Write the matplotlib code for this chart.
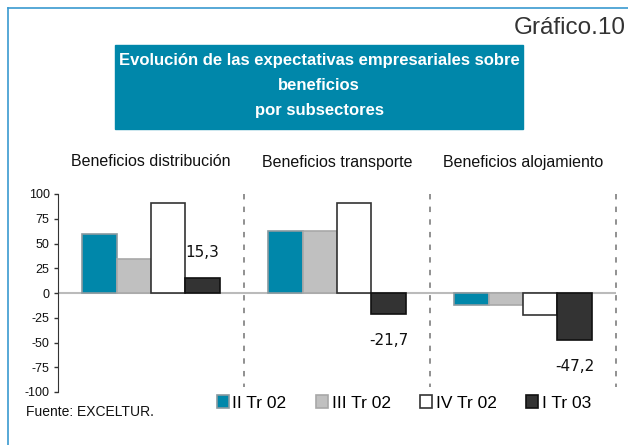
import matplotlib.pyplot as plt
from matplotlib.patches import Rectangle
from matplotlib.lines import Line2D
import numpy as np

plt.rcParams['font.family'] = ['Liberation Sans', 'DejaVu Sans']

# data
sectores = ['Beneficios distribución', 'Beneficios transporte', 'Beneficios alojamiento']
periodos = ['II Tr 02', 'III Tr 02', 'IV Tr 02', 'I Tr 03']
ii_tr_02 = [59.5, 63, -12]
iii_tr_02 = [34, 63, -12]
iv_tr_02 = [91, 90.5, -22]
i_tr_03 = [15.3, -21.7, -47.2]
yticks = [100, 75, 50, 25, 0, -25, -50, -75, -100]

series = [ii_tr_02, iii_tr_02, iv_tr_02, i_tr_03]
fills = ['#0087AA', '#C0C0C0', '#FFFFFF', '#333333']
edges = ['#8A9AA0', '#A8A8A8', '#333333', '#111111']
teal = '#0087AA'

fig = plt.figure(figsize=(6.28, 4.45), dpi=100)
ax = fig.add_axes([58 / 628, 1 - 392 / 445, (616 - 58) / 628, (392 - 194) / 445])

x = np.arange(len(sectores))
w = 0.185
for k, (vals, fc, ec) in enumerate(zip(series, fills, edges)):
    ax.bar(x + (k - 1.5) * w, vals, width=w, color=fc, edgecolor=ec,
           linewidth=1.2, label=periodos[k], zorder=2)

# labels on the last series
for i, v in enumerate(i_tr_03):
    txt = ('%.1f' % v).replace('.', ',')
    off = 18 if v > 0 else -19
    ax.annotate(txt, (x[i] + 1.5 * w, v), xytext=(0, off), textcoords='offset points',
                ha='center', va='center', fontsize=11, color='#111111',
                family=['DejaVu Sans'])

ax.axhline(0, color='#BBBBBB', lw=1.5, zorder=1)
for b in [0.5, 1.5, 2.5]:
    ax.plot([b, b], [100, -95], ls=(0, (3, 4)), color='#888888', lw=1.3, zorder=1,
            clip_on=False)

ax.set_xlim(-0.5, 2.5)
ax.set_ylim(-100, 100)
ax.set_yticks(yticks)
ax.set_yticklabels([str(t) for t in yticks], fontsize=9, color='#111111')
ax.set_xticks([])
for s in ['top', 'right', 'bottom']:
    ax.spines[s].set_visible(False)
ax.spines['left'].set_color('#333333')
ax.tick_params(axis='y', length=3, width=1, color='#333333', pad=3)

for i, name in enumerate(sectores):
    ax.annotate(name, (x[i], 1 - 162 / 445), xycoords=('data', 'figure fraction'),
                ha='center', va='center', fontsize=11.5, color='#111111')

# title box
fig.patches.append(Rectangle((115 / 628, 1 - 129 / 445), (523 - 115) / 628, 84 / 445,
                             transform=fig.transFigure, color=teal, zorder=0))
title = ['Evolución de las expectativas empresariales sobre', 'beneficios', 'por subsectores']
for j, line in enumerate(title):
    fig.text(319 / 628, 1 - (60 + 25 * j) / 445, line, ha='center', va='center',
             fontsize=12, fontweight='bold', color='white')

fig.text(514 / 628, 1 - 28 / 445, 'Gráfico.10', ha='left', va='center',
         fontsize=17.5, color='#333333')

fig.text(26 / 628, 1 - 412 / 445, 'Fuente: EXCELTUR.', ha='left', va='center',
         fontsize=10, color='#111111')

# frame lines
fig.lines.append(Line2D([8 / 628, 8 / 628], [0, 1 - 8 / 445], transform=fig.transFigure,
                        color='#3A9AD0', lw=1.2))
fig.lines.append(Line2D([8 / 628, 1], [1 - 8 / 445, 1 - 8 / 445], transform=fig.transFigure,
                        color='#3A9AD0', lw=1.2))

fig.legend(loc='center', bbox_to_anchor=(404 / 628, 1 - 403 / 445), ncol=4,
           frameon=False, fontsize=12.5, handlelength=0.7, handleheight=0.8,
           handletextpad=0.2, columnspacing=1.7, borderaxespad=0)

fig.savefig('out.png', dpi=100)
